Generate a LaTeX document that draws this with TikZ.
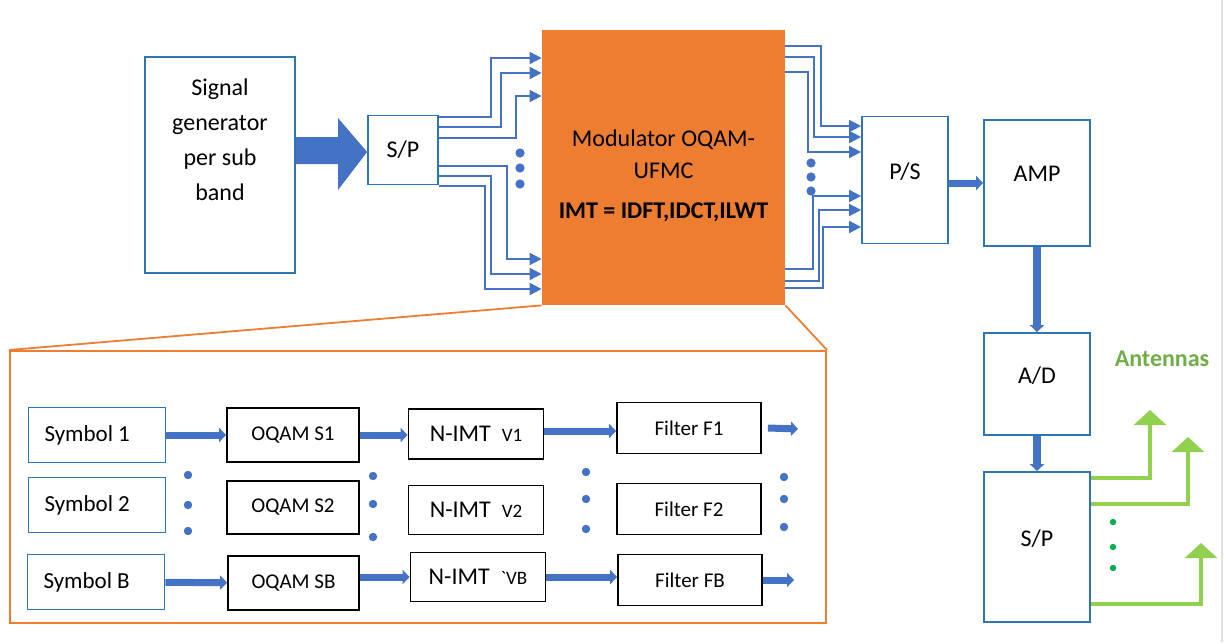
\documentclass[tikz,border=0pt]{standalone}
\usepackage{fontspec}
\setmainfont{Carlito}
\usetikzlibrary{arrows.meta,calc}

\definecolor{boxblue}{HTML}{2E75B6}
\definecolor{arrblue}{HTML}{4472C4}
\definecolor{modorange}{HTML}{ED7D31}
\definecolor{antgreen}{HTML}{92D050}
\definecolor{txtgreen}{HTML}{70AD47}
\definecolor{dotgreen}{HTML}{00B050}

\begin{document}
\begin{tikzpicture}[x=0.5pt,y=-0.5pt,font=\fontsize{12}{14}\selectfont]
  \useasboundingbox (0,0) rectangle (1224,642);
  \tikzset{topbox/.style={draw=boxblue,line width=0.9pt,inner sep=2pt}}
  \tikzset{rbox/.style={topbox,minimum width=53pt,text depth=9pt}}
  \tikzset{symbox/.style={draw=boxblue,line width=0.9pt,minimum height=27.5pt,align=flush left,text width=52.5pt,inner xsep=8pt,font=\fontsize{11.5}{13}\selectfont}}
  \tikzset{blkbox/.style={draw=black,line width=0.9pt,font=\fontsize{10.5}{12}\selectfont}}
  \tikzset{link/.style={draw=arrblue,line width=1pt,-{Triangle[length=6pt,width=6pt]}}}
  \tikzset{fatarr/.style={draw=arrblue,line width=3.5pt,-{Triangle[length=3.5pt,width=7pt]}}}
  \tikzset{antarr/.style={draw=antgreen,line width=1.6pt,-{Triangle[length=7.5pt,width=16pt]}}}
  \def\imt#1{N-IMT\ \ {\fontsize{9.5}{11}\selectfont #1}}

  % upper chain
  \node[topbox,minimum width=75pt,minimum height=108pt,
        label={[align=center,font=\fontsize{12}{17.5}\selectfont,yshift=12.5pt]center:Signal\\generator\\per sub\\band}]
        (gen) at (220,165) {};
  \node[topbox,minimum width=35pt,minimum height=34.5pt] (sp) at (403,150) {S/P};
  \node[fill=modorange,inner sep=0,minimum width=121.5pt,minimum height=137.5pt,
        label={[align=center,font=\fontsize{12}{16}\selectfont,yshift=-4.25pt]center:Modulator OQAM-\\UFMC\\[4pt]\textbf{IMT = IDFT,IDCT,ILWT}}]
        (mod) at (663.5,167.5) {};
  \node[topbox,minimum width=43pt,minimum height=63.5pt,text depth=9pt] (ps) at (905,180) {P/S};
  \node[rbox,minimum height=63pt] (amp) at (1037,183) {AMP};
  \node[rbox,minimum height=51pt] (ad) at (1037,384) {A/D};
  \node[rbox,minimum height=75pt] (sp2) at (1037,547) {S/P};

  % block arrow into S/P
  \fill[arrblue] (gen.east |- 0,137) -- (338,137) -- (338,118) -- (sp.west |- 0,152)
    -- (338,190) -- (338,164) -- (gen.east |- 0,164) -- cycle;

  % S/P -> modulator
  \foreach \ya/\xv/\yb in {117/491/58,127/501/73,138/516/96,166/507/259,176/491/274,186/485/289}
    \draw[link] (sp.east |- 0,\ya) -| (\xv,\yb) -- (mod.west |- 0,\yb);
  % modulator -> P/S
  \foreach \ya/\xv/\yb in {46/821/126,57/814/137,72/808/152,269/813/196,281/819/210,288/823/227}
    \draw[link] (mod.east |- 0,\ya) -| (\xv,\yb) -- (ps.west |- 0,\yb);
  \foreach \y in {153,168,184} \fill[arrblue] (520,\y) circle (2.3pt);
  \foreach \y in {163,177,191} \fill[arrblue] (811,\y) circle (2.3pt);

  \draw[fatarr] (ps.east |- amp.west) -- (amp.west);
  \draw[fatarr,line width=4pt] (amp) -- (ad);
  \draw[fatarr,line width=4pt] (ad) -- (sp2);

  % antennas
  \coordinate (ant1) at (1150,410);
  \coordinate (ant2) at (1188,437);
  \coordinate (ant3) at (1201,543);
  \draw[antarr] (sp2.east |- 0,478) -| (ant1);
  \draw[antarr] (sp2.east |- 0,504) -| (ant2);
  \draw[antarr] (sp2.east |- 0,604) -| (ant3);
  \foreach \y in {522,547,568} \fill[dotgreen] (1113,\y) circle (1.6pt);
  \node[text=txtgreen,font=\bfseries\fontsize{12}{14}\selectfont] (antlbl) at (1162,359) {Antennas};

  % zoom panel
  \node[draw=modorange,line width=1pt,minimum width=408pt,minimum height=136pt] (panel) at (418,487) {};
  \draw[modorange,line width=0.9pt] (mod.south west) -- (panel.north west);
  \draw[modorange,line width=0.9pt] (mod.south east) -- (panel.north east);

  \node[symbox] (sym1) at (97,435) {Symbol 1};
  \node[symbox] (sym2) at (97,505) {Symbol 2};
  \node[symbox] (symB) at (96,582) {Symbol B};
  \node[blkbox,minimum width=66pt,minimum height=27pt] (oq1) at (293,435) {OQAM S1};
  \node[blkbox,minimum width=66pt,minimum height=26.5pt] (oq2) at (293,507.5) {OQAM S2};
  \node[blkbox,minimum width=65.5pt,minimum height=27pt] (oqB) at (293.5,583) {OQAM SB};
  \node[blkbox,minimum width=67.5pt,minimum height=25pt,font=\fontsize{12}{14}\selectfont] (nimt1) at (476,434) {\imt{V1}};
  \node[blkbox,minimum width=67.5pt,minimum height=24.5pt,font=\fontsize{12}{14}\selectfont] (nimt2) at (476,510) {\imt{V2}};
  \node[blkbox,minimum width=67.5pt,minimum height=24.5pt,font=\fontsize{12}{14}\selectfont] (nimtB) at (478,577) {\imt{\textasciigrave VB}};
  \node[blkbox,minimum width=72pt,minimum height=25.5pt] (filt1) at (689,428) {Filter F1};
  \node[blkbox,minimum width=72pt,minimum height=25.5pt] (filt2) at (689,509) {Filter F2};
  \node[blkbox,minimum width=72pt,minimum height=25.5pt] (filtB) at (690,580) {Filter FB};

  \draw[fatarr] (sym1) -- (oq1);
  \draw[fatarr] (symB) -- (oqB);
  \draw[fatarr] (oq1) -- (oq1 -| nimt1.west);
  \draw[fatarr] (oqB.east |- nimtB) -- (nimtB);
  \draw[fatarr] (nimt1.east |- 0,431) -- (filt1.west |- 0,431);
  \draw[fatarr] (nimtB.east |- 0,577) -- (filtB.west |- 0,577);
  \coordinate (out1) at (798,429);
  \coordinate (outB) at (794,580);
  \draw[fatarr] ([xshift=3pt]filt1.east) -- (out1);
  \draw[fatarr] (filtB.east) -- (outB);

  \foreach \x/\ya/\yb/\yc in {188/475/505/531,373/476/504/537,586/472/499/529,784/477/499/527}{
    \fill[arrblue] (\x,\ya) circle (2.1pt);
    \fill[arrblue] (\x,\yb) circle (2.1pt);
    \fill[arrblue] (\x,\yc) circle (2.1pt);
  }

  \draw[black!12,line width=0.8pt] (1222,0) -- (1222,642);
\end{tikzpicture}
\end{document}
